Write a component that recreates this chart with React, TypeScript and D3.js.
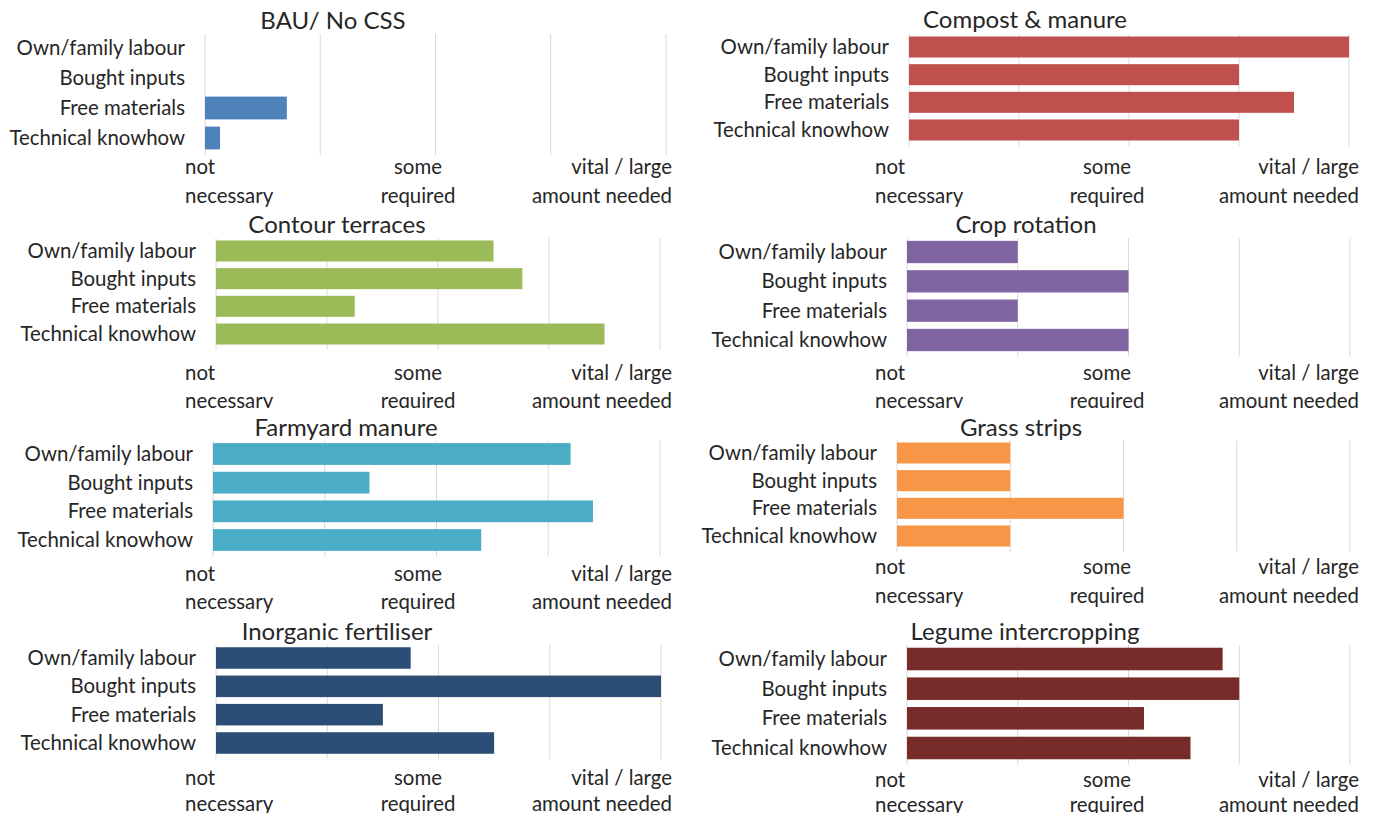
import React from "react";
import * as d3 from "d3";

const categories = ["Own/family labour", "Bought inputs", "Free materials", "Technical knowhow"];
const titles = [
  "BAU/ No CSS",
  "Compost & manure",
  "Contour terraces",
  "Crop rotation",
  "Farmyard manure",
  "Grass strips",
  "Inorganic fertiliser",
  "Legume intercropping",
];
const colors = ["#4F81BD", "#C0504D", "#9BBB59", "#8064A2", "#4BACC6", "#F79646", "#2C4D75", "#772C2A"];

const bauValues = [0, 0, 0.71, 0.13];
const compostValues = [4.0, 3.0, 3.5, 3.0];
const contourValues = [2.5, 2.76, 1.25, 3.5];
const cropRotationValues = [1.0, 2.0, 1.0, 2.0];
const farmyardValues = [3.2, 1.4, 3.4, 2.4];
const grassStripValues = [1.0, 1.0, 2.0, 1.0];
const inorganicValues = [1.75, 4.0, 1.5, 2.5];
const legumeValues = [2.85, 3.0, 2.14, 2.56];

const seriesValues = [
  bauValues,
  compostValues,
  contourValues,
  cropRotationValues,
  farmyardValues,
  grassStripValues,
  inorganicValues,
  legumeValues,
];

const gridValues = [0, 1, 2, 3, 4];
const tickLabels = [
  ["not", "necessary"],
  ["some", "required"],
  ["vital / large", "amount needed"],
];

// layout (positions only)
const layouts = [
  { x0: 205, x1: 666, r0: 48, r1: 138, tx: 333, ty: 21, l1: 167, l2: 196, clipTop: 0, clipBottom: 210, col: 0 },
  { x0: 909, x1: 1349, r0: 47, r1: 130, tx: 1025, ty: 20, l1: 167, l2: 196, clipTop: 0, clipBottom: 210, col: 1 },
  { x0: 216, x1: 660, r0: 251, r1: 334, tx: 337, ty: 225, l1: 373, l2: 401, clipTop: 210, clipBottom: 408, col: 0 },
  { x0: 907, x1: 1350, r0: 252, r1: 340, tx: 1026, ty: 225, l1: 373, l2: 401, clipTop: 210, clipBottom: 408, col: 1 },
  { x0: 213, x1: 660, r0: 454, r1: 540, tx: 346, ty: 428, l1: 574, l2: 602, clipTop: 410, clipBottom: 615, col: 0 },
  { x0: 897, x1: 1350, r0: 453, r1: 536, tx: 1021, ty: 428, l1: 567, l2: 596, clipTop: 410, clipBottom: 615, col: 1 },
  { x0: 216, x1: 661, r0: 658, r1: 743, tx: 337, ty: 632, l1: 778, l2: 804, clipTop: 615, clipBottom: 813, col: 0 },
  { x0: 907, x1: 1350, r0: 659, r1: 748, tx: 1025, ty: 632, l1: 780, l2: 805, clipTop: 615, clipBottom: 813, col: 1 },
];
const tickLabelX = [
  { left: 185, mid: 418, right: 672 },
  { left: 875, mid: 1107, right: 1359 },
];

const FONT = "Lato, 'Noto Sans', sans-serif";
const TEXT = "#262626";
const LABEL_SIZE = 20.4;
const TITLE_SIZE = 24;

function Panel({ i }: { i: number }) {
  const L = layouts[i];
  const values = seriesValues[i];
  const step = (L.r1 - L.r0) / 3;
  const x = d3.scaleLinear().domain([0, 4]).range([L.x0, L.x1]);
  const y = d3
    .scaleBand<string>()
    .domain(categories)
    .range([L.r0 - step / 2, L.r1 + step / 2])
    .paddingInner(0.24)
    .paddingOuter(0.12);
  const [gy0, gy1] = y.range();
  const T = tickLabelX[L.col];
  const anchors = ["start", "middle", "end"];
  const tickX = [T.left, T.mid, T.right];
  return (
    <g clipPath={`url(#clip${i})`}>
      <defs>
        <clipPath id={`clip${i}`}>
          <rect x={L.col === 0 ? 0 : 688} y={L.clipTop} width={688} height={L.clipBottom - L.clipTop} />
        </clipPath>
      </defs>
      {gridValues.map((v) => (
        <line key={v} x1={x(v)} x2={x(v)} y1={gy0 + 1} y2={gy1 + 2} stroke="#D9D9D9" strokeWidth={1} />
      ))}
      {categories.map((c, k) => (
        <rect
          key={c}
          x={x(0)}
          y={y(c)}
          width={Math.max(0, x(values[k]) - x(0))}
          height={y.bandwidth()}
          fill={colors[i]}
        />
      ))}
      {categories.map((c) => (
        <text
          key={c}
          x={L.x0 - 20}
          y={(y(c) as number) + y.bandwidth() / 2}
          dy="0.35em"
          textAnchor="end"
          fontSize={LABEL_SIZE}
          fontFamily={FONT}
          fill={TEXT}
        >
          {c}
        </text>
      ))}
      <text x={L.tx} y={L.ty} dy="0.35em" textAnchor="middle" fontSize={TITLE_SIZE} fontFamily={FONT} fill={TEXT}>
        {titles[i]}
      </text>
      {tickLabels.map((lbl, k) => (
        <g key={k}>
          <text
            x={tickX[k]}
            y={L.l1}
            dy="0.35em"
            textAnchor={anchors[k]}
            fontSize={LABEL_SIZE}
            fontFamily={FONT}
            fill={TEXT}
          >
            {lbl[0]}
          </text>
          <text
            x={tickX[k]}
            y={L.l2}
            dy="0.35em"
            textAnchor={anchors[k]}
            fontSize={LABEL_SIZE}
            fontFamily={FONT}
            fill={TEXT}
          >
            {lbl[1]}
          </text>
        </g>
      ))}
    </g>
  );
}

export default function App() {
  return (
    <svg
      width={1376}
      height={813}
      style={{ position: "absolute", left: 0, top: 0, background: "#fff" }}
    >
      <rect x={0} y={0} width={1376} height={813} fill="#fff" />
      {titles.map((_, i) => (
        <Panel key={i} i={i} />
      ))}
    </svg>
  );
}
